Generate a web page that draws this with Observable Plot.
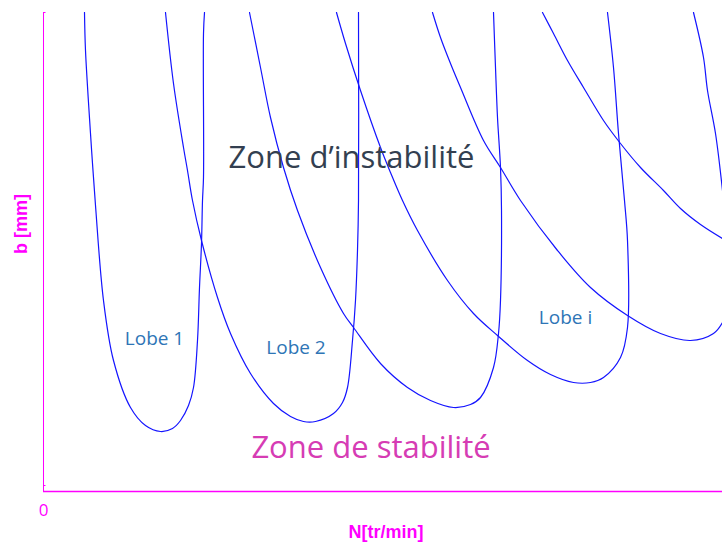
<!DOCTYPE html>
<html><head><meta charset="utf-8">
<script src="https://cdn.jsdelivr.net/npm/d3@7"></script>
<script src="https://cdn.jsdelivr.net/npm/@observablehq/plot@0.6"></script>
<style>body{margin:0;background:#fff}</style>
</head><body><div id="chart"></div>
<script>
// Stability lobes: spindle speed N [tr/min] vs depth of cut b [mm]
const lobe1N = [410, 420, 470, 490, 520, 600, 700, 870, 1020, 1170, 1290, 1370, 1450, 1500, 1540, 1560, 1580, 1590, 1600, 1600, 1610];
const lobe1b = [4.79, 4.41, 3.58, 3.28, 2.86, 1.91, 1.31, 0.84, 0.66, 0.60, 0.63, 0.71, 0.86, 1.04, 1.51, 2.04, 2.48, 2.91, 3.14, 4.58, 4.79];
const lobe2N = [1220, 1300, 1400, 1440, 1490, 1580, 1740, 1870, 2070, 2300, 2470, 2600, 2720, 2900, 2990, 3040, 3090, 3120, 3140, 3150, 3150];
const lobe2b = [4.79, 4.08, 3.44, 3.21, 2.91, 2.51, 1.94, 1.58, 1.18, 0.88, 0.75, 0.70, 0.70, 0.78, 0.89, 1.04, 1.51, 1.91, 2.41, 2.91, 4.79];
const lobe3N = [2060, 2170, 2270, 2400, 2540, 2770, 3000, 3100, 3370, 3640, 3870, 4100, 4270, 4370, 4500, 4550, 4570, 4580, 4570, 4540, 4520, 4500];
const lobe3b = [4.79, 4.24, 3.74, 3.24, 2.81, 2.24, 1.78, 1.64, 1.28, 1.04, 0.91, 0.84, 0.87, 0.94, 1.24, 1.58, 1.91, 2.81, 3.24, 3.74, 4.24, 4.79];
const lobe4N = [2930, 3020, 3170, 3370, 3470, 3590, 3740, 4040, 4300, 4540, 4840, 5070, 5300, 5470, 5600, 5770, 5840, 5840, 5810, 5750, 5700, 5640];
const lobe4b = [4.79, 4.48, 4.01, 3.44, 3.19, 2.91, 2.61, 2.11, 1.78, 1.56, 1.31, 1.17, 1.09, 1.09, 1.14, 1.34, 1.64, 2.51, 2.91, 3.58, 4.24, 4.79];
const lobe5N = [3890, 3970, 4070, 4170, 4400, 4570, 4770, 5140, 5470, 5840, 6170, 6470, 6700, 6790];
const lobe5b = [4.79, 4.54, 4.28, 4.04, 3.51, 3.24, 2.91, 2.41, 2.04, 1.76, 1.58, 1.51, 1.58, 1.69];
const lobe6N = [4990, 5100, 5240, 5400, 5600, 5770, 5970, 6200, 6370, 6570, 6790];
const lobe6b = [4.79, 4.58, 4.31, 4.04, 3.71, 3.48, 3.24, 3.01, 2.83, 2.67, 2.53];
const lobe7N = [6500, 6600, 6640, 6720, 6790];
const lobe7b = [4.79, 4.34, 4.01, 3.58, 3.01];

const lobeNames = ["1", "2", "3", "4", "5", "6", "7"];
const lobeNs = [lobe1N, lobe2N, lobe3N, lobe4N, lobe5N, lobe6N, lobe7N];
const lobeBs = [lobe1b, lobe2b, lobe3b, lobe4b, lobe5b, lobe6b, lobe7b];

// Annotation texts and their positions (N, b)
const lobeLabels = ["Lobe 1", "Lobe 2", "Lobe i"];
const lobeLabelN = [1110, 2525, 5220];
const lobeLabelB = [1.53, 1.44, 1.74];
const zoneLabels = ["Zone d\u2019instabilité", "Zone de stabilité"];
const zoneLabelN = [3080, 3275];
const zoneLabelB = [3.33, 0.43];

const xTicks = [0];
const xLabel = "N[tr/min]";
const yLabel = "b [mm]";
const yEndTicks = [0.06, 4.79];
const xDomain = [0, 6790];
const yDomain = [0, 4.79];

const rows = lobeNames.flatMap((name, k) => lobeNs[k].map((n, i) => ({lobe: name, N: n, b: lobeBs[k][i]})));
const lobeText = lobeLabels.map((t, i) => ({t, N: lobeLabelN[i], b: lobeLabelB[i]}));
const zoneText = zoneLabels.map((t, i) => ({t, N: zoneLabelN[i], b: zoneLabelB[i]}));

const MAG = "#ff00ff";
const chart = Plot.plot({
  width: 722,
  height: 544,
  marginLeft: 43,
  marginRight: 0,
  marginTop: 12,
  marginBottom: 53,
  style: {background: "white", overflow: "visible"},
  x: {domain: xDomain},
  y: {domain: yDomain, axis: null},
  marks: [
    Plot.line(rows, {x: "N", y: "b", z: "lobe", stroke: "#1414ff", strokeWidth: 1.2, curve: "catmull-rom", clip: true}),
    Plot.ruleX([0], {stroke: MAG, strokeWidth: 1}),
    Plot.ruleY([0], {stroke: MAG, strokeWidth: 1.6}),
    Plot.ruleY(yEndTicks, {x1: 0, x2: 25, stroke: MAG, strokeWidth: 1}),
    Plot.axisX({ticks: xTicks, tickSize: 0, tickPadding: 12, tickFormat: d => String(d), color: MAG, fontSize: 17, fontFamily: "Open Sans", label: null}),
    Plot.text([xLabel], {frameAnchor: "bottom", dy: 46, dx: 3, text: d => d, fill: MAG, fontSize: 18, fontWeight: "bold", fontFamily: "Liberation Sans"}),
    Plot.text([yLabel], {frameAnchor: "left", dx: -22, dy: 2, rotate: -90, text: d => d, fill: MAG, fontSize: 18, fontWeight: "bold", fontFamily: "Liberation Sans"}),
    Plot.text(lobeText, {x: "N", y: "b", text: "t", fill: "#2e75b6", fontSize: 19, fontFamily: "Open Sans"}),
    Plot.text(zoneText.slice(0, 1), {x: "N", y: "b", text: "t", fill: "#333f50", fontSize: 31, fontFamily: "Open Sans"}),
    Plot.text(zoneText.slice(1), {x: "N", y: "b", text: "t", fill: "#d63cb4", fontSize: 31, fontFamily: "Open Sans"})
  ]
});
document.getElementById("chart").appendChild(chart);
</script>
</body></html>
